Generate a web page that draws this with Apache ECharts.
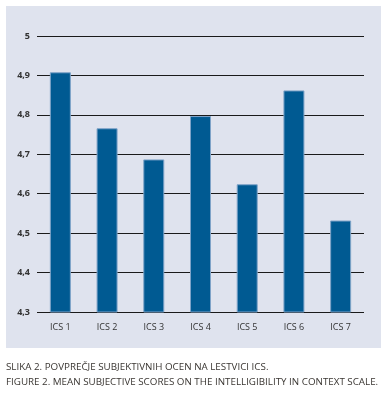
<!DOCTYPE html>
<html>
<head>
<meta charset="utf-8">
<script src="https://cdn.jsdelivr.net/npm/echarts@6/dist/echarts.min.js"></script>
<style>html,body{margin:0;padding:0;background:#fff;}#c{width:389px;height:394px;}</style>
</head>
<body>
<div id="c"></div>
<script>
const categories = ['ICS 1','ICS 2','ICS 3','ICS 4','ICS 5','ICS 6','ICS 7'];
const values = [4.908, 4.766, 4.687, 4.797, 4.624, 4.862, 4.532];
const captionSl = 'SLIKA 2. POVPREČJE SUBJEKTIVNIH OCEN NA LESTVICI ICS.';
const captionEn = 'FIGURE 2. MEAN SUBJECTIVE SCORES ON THE INTELLIGIBILITY IN CONTEXT SCALE.';

const chart = echarts.init(document.getElementById('c'), null, {renderer:'canvas'});
const font = 'Open Sans';
chart.setOption({
  backgroundColor: '#ffffff',
  animation: false,
  graphic: [
    {type:'rect', z:-10, shape:{x:6, y:6, width:375, height:342}, style:{fill:'#dfe3ee'}},
    {type:'text', left:6, top:362, style:{text:captionSl, font:'9.8px "Open Sans"', fill:'#3a3632'}},
    {type:'text', left:6, top:377, style:{text:captionEn, font:'9.8px "Open Sans"', fill:'#3a3632'}}
  ],
  grid: {left:37, right:25, top:36, bottom:82, containLabel:false},
  xAxis: {
    type:'category', data:categories,
    axisLine:{show:false}, axisTick:{show:false},
    axisLabel:{color:'#333', fontSize:9, fontFamily:font, margin:11}
  },
  yAxis: {
    type:'value', min:4.3, max:5, interval:0.1,
    axisLine:{show:false}, axisTick:{show:false},
    splitLine:{lineStyle:{color:'#1a1a1a', width:1}},
    axisLabel:{color:'#333', fontSize:9, fontFamily:font, fontWeight:'bold', margin:7,
      formatter: v => String(+v.toFixed(1)).replace('.', ',')}
  },
  series: [{
    type:'bar', data:values, barWidth:21, z:3,
    itemStyle:{color:'#005a92', borderColor:'#7ea3c8', borderWidth:1}
  }]
});
</script>
</body>
</html>
